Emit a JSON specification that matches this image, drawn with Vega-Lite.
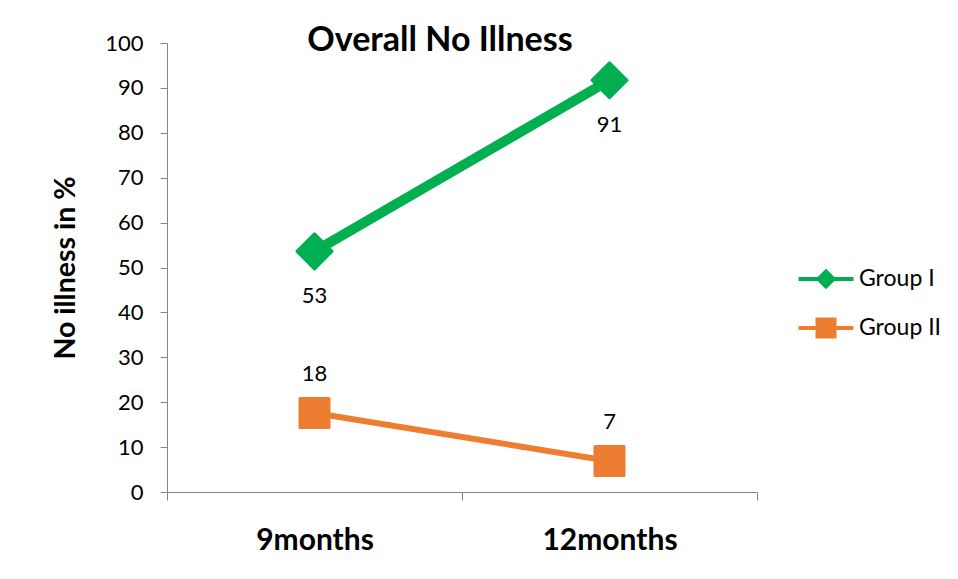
{
  "$schema": "https://vega.github.io/schema/vega-lite/v6.json",
  "autosize": {"type": "none"},
  "width": 590,
  "height": 449,
  "padding": {"left": 167, "top": 43, "right": 201, "bottom": 87},
  "background": "white",
  "config": {"view": {"stroke": null}, "font": "Lato"},
  "title": {"text": "Overall No Illness", "anchor": "middle", "frame": "group", "dx": -22, "offset": -53, "baseline": "alphabetic", "font": "Lato", "fontSize": 34, "fontWeight": "bold", "color": "black"},
  "data": {"values": [
    {"period": "9months", "group": "Group I", "value": 53.6, "label": "53"},
    {"period": "12months", "group": "Group I", "value": 91.7, "label": "91"},
    {"period": "9months", "group": "Group II", "value": 17.6, "label": "18"},
    {"period": "12months", "group": "Group II", "value": 6.9, "label": "7"}
  ]},
  "encoding": {
    "x": {"field": "period", "type": "nominal", "sort": ["9months", "12months"],
      "scale": {"paddingInner": 0, "paddingOuter": 0},
      "axis": {"title": null, "labelAngle": 0, "labelFont": "Lato", "labelFontSize": 30, "labelFontWeight": "bold", "labelColor": "black", "labelPadding": 25, "tickBand": "extent", "tickSize": 8, "domainColor": "#868686", "tickColor": "#868686", "grid": false}},
    "y": {"field": "value", "type": "quantitative",
      "scale": {"domain": [0, 100], "nice": false},
      "axis": {"title": "No illness in %", "values": [0,10,20,30,40,50,60,70,80,90,100], "grid": false, "labelFont": "Lato", "labelFontSize": 22, "labelColor": "black", "labelPadding": 17, "tickSize": 7, "domainColor": "#868686", "tickColor": "#868686", "titleFont": "Lato", "titleFontSize": 28.5, "titleFontWeight": "bold", "titleColor": "black", "titlePadding": 24}},
    "color": {"field": "group", "type": "nominal",
      "scale": {"domain": ["Group I", "Group II"], "range": ["#00B050", "#ED7D31"]},
      "legend": {"title": null, "orient": "none", "legendX": 647, "legendY": 224, "padding": 0, "rowPadding": 16, "labelFont": "Lato", "labelFontSize": 23, "labelColor": "black", "labelOffset": 21, "symbolSize": 400,
        "encode": {"symbols": {"update": {
          "shape": {"signal": "datum.value === 'Group I' ? 'M-2.75,0H2.75M0,-0.75L0.75,0L0,0.75L-0.75,0Z' : 'M-2.75,0H2.75M-0.85,-0.85H0.85V0.85H-0.85Z'"},
          "fill": {"signal": "datum.value === 'Group I' ? '#00B050' : '#ED7D31'"},
          "stroke": {"signal": "datum.value === 'Group I' ? '#00B050' : '#ED7D31'"},
          "strokeWidth": {"value": 4},
          "opacity": {"value": 1}
        }}}}}
  },
  "layer": [
    {"transform": [{"filter": "datum.group === 'Group I'"}], "mark": {"type": "line", "strokeWidth": 10}},
    {"transform": [{"filter": "datum.group === 'Group II'"}], "mark": {"type": "line", "strokeWidth": 6}},
    {"transform": [{"filter": "datum.group === 'Group I'"}], "mark": {"type": "point", "shape": "diamond", "filled": true, "size": 1225, "opacity": 1, "strokeWidth": 3, "strokeJoin": "round"}, "encoding": {"stroke": {"field": "group", "type": "nominal", "scale": {"domain": ["Group I", "Group II"], "range": ["#00B050", "#ED7D31"]}, "legend": null}}},
    {"transform": [{"filter": "datum.group === 'Group II'"}], "mark": {"type": "point", "shape": "square", "filled": true, "size": 841, "opacity": 1, "strokeWidth": 3, "strokeJoin": "round"}, "encoding": {"stroke": {"field": "group", "type": "nominal", "scale": {"domain": ["Group I", "Group II"], "range": ["#00B050", "#ED7D31"]}, "legend": null}}},
    {"transform": [{"filter": "datum.group === 'Group I'"}], "mark": {"type": "text", "dy": 45, "baseline": "middle", "font": "Lato", "fontSize": 22, "color": "black"}, "encoding": {"text": {"field": "label"}, "color": {"value": "black"}}},
    {"transform": [{"filter": "datum.group === 'Group II'"}], "mark": {"type": "text", "dy": -39, "baseline": "middle", "font": "Lato", "fontSize": 22, "color": "black"}, "encoding": {"text": {"field": "label"}, "color": {"value": "black"}}}
  ]
}
